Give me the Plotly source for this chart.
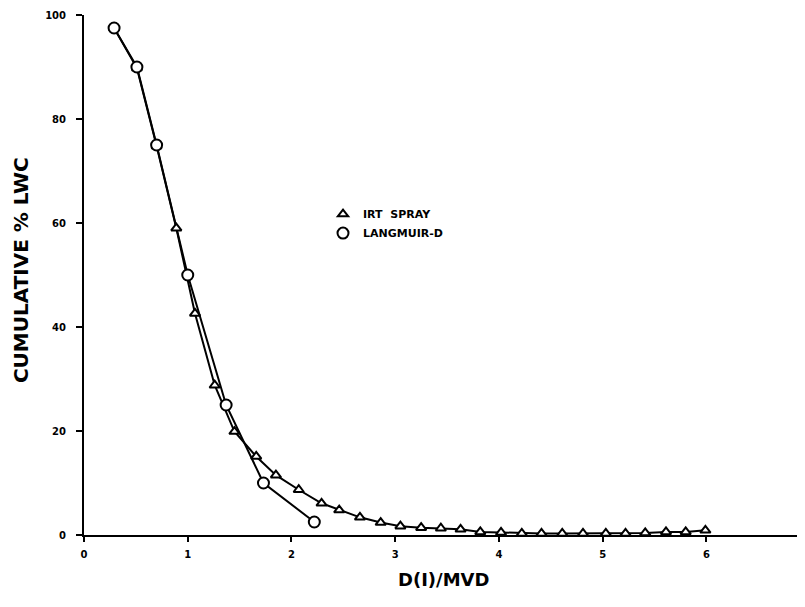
import plotly.graph_objects as go

# Data
irt_x = [0.29, 0.51, 0.70, 0.89, 1.07, 1.26, 1.45, 1.66, 1.85, 2.07, 2.29, 2.46,
         2.66, 2.86, 3.05, 3.25, 3.44, 3.63, 3.82, 4.02, 4.22, 4.41, 4.61, 4.81,
         5.03, 5.22, 5.41, 5.61, 5.80, 5.99]
irt_y = [97.5, 89.8, 74.8, 59.0, 42.6, 28.8, 19.9, 15.1, 11.5, 8.7, 6.1, 4.8,
         3.4, 2.4, 1.7, 1.4, 1.3, 1.1, 0.6, 0.5, 0.3, 0.3, 0.3, 0.3,
         0.3, 0.3, 0.4, 0.6, 0.6, 0.9]

langmuir_x = [0.29, 0.51, 0.70, 1.00, 1.37, 1.73, 2.22]
langmuir_y = [97.5, 90.0, 75.0, 50.0, 25.0, 10.0, 2.5]

x_ticks = [0, 1, 2, 3, 4, 5, 6]
y_ticks = [0, 20, 40, 60, 80, 100]

FONT = "DejaVu Sans"
BLACK = "#000000"

fig = go.Figure()

# connecting lines
fig.add_trace(go.Scatter(x=irt_x, y=irt_y, mode="lines", showlegend=False,
                         line=dict(color=BLACK, width=2), hoverinfo="skip",
                         cliponaxis=False))
fig.add_trace(go.Scatter(x=langmuir_x, y=langmuir_y, mode="lines", showlegend=False,
                         line=dict(color=BLACK, width=2), hoverinfo="skip",
                         cliponaxis=False))
# markers
fig.add_trace(go.Scatter(x=irt_x, y=irt_y, mode="markers", name="IRT  SPRAY",
                         marker=dict(symbol="triangle-up", size=9, color="white",
                                     line=dict(color=BLACK, width=2)),
                         cliponaxis=False))
fig.add_trace(go.Scatter(x=langmuir_x, y=langmuir_y, mode="markers", name="LANGMUIR-D",
                         marker=dict(symbol="circle", size=11, color="white",
                                     line=dict(color=BLACK, width=2)),
                         cliponaxis=False))

fig.update_layout(
    width=797, height=599,
    margin=dict(l=76, r=0, t=7, b=72, autoexpand=False),
    paper_bgcolor="white", plot_bgcolor="white",
    font=dict(family=FONT, color=BLACK, weight="bold"),
    showlegend=True,
    legend=dict(x=0.3315, y=0.645, xanchor="left", yanchor="top",
                bgcolor="rgba(0,0,0,0)", borderwidth=0,
                font=dict(family=FONT, size=11, color=BLACK, weight="bold"),
                itemwidth=30, tracegroupgap=0),
    xaxis=dict(range=[0, 6.95], tickvals=x_ticks, ticktext=[str(v) for v in x_ticks],
               showline=True, linecolor=BLACK, linewidth=2, ticks="outside",
               ticklen=5, tickwidth=2, tickcolor=BLACK, showgrid=False,
               zeroline=False, tickfont=dict(family=FONT, size=10, color=BLACK, weight="bold"),
               ticklabelstandoff=4),
    yaxis=dict(range=[0, 100], tickvals=y_ticks, ticktext=[str(v) for v in y_ticks],
               showline=True, linecolor=BLACK, linewidth=2, ticks="outside",
               ticklen=6, tickwidth=2, tickcolor=BLACK, showgrid=False,
               zeroline=False, tickfont=dict(family=FONT, size=10, color=BLACK, weight="bold"),
               ticklabelstandoff=8),
    annotations=[
        dict(text="D(I)/MVD", xref="paper", yref="paper", x=0.498, y=-0.0865,
             xanchor="center", yanchor="middle", showarrow=False,
             font=dict(family=FONT, size=18, color=BLACK, weight="bold")),
        dict(text="CUMULATIVE % LWC", xref="paper", yref="paper", x=-0.087, y=0.51,
             xanchor="center", yanchor="middle", showarrow=False, textangle=-90,
             font=dict(family=FONT, size=20, color=BLACK, weight="bold")),
    ],
)

fig.write_html("out.html")
